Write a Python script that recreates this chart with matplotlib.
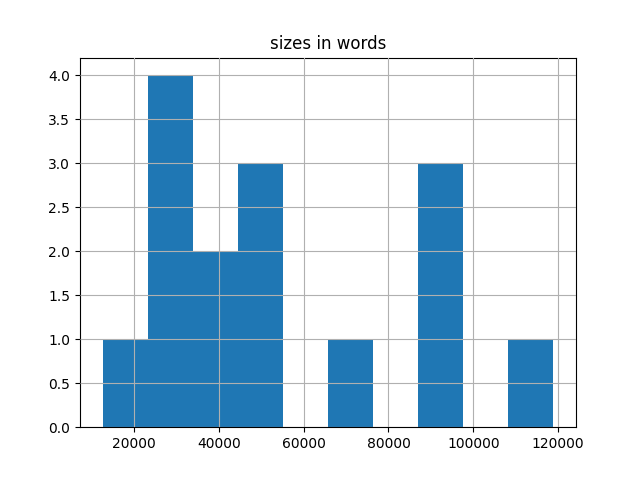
import matplotlib
matplotlib.use('Agg')
import matplotlib.pyplot as plt

# word counts per document
sizes = [12600,
         25000, 28000, 30000, 32000,
         36000, 41000,
         46000, 50000, 53000,
         70000,
         89000, 92000, 95000,
         118900]

fig, ax = plt.subplots(figsize=(6.4, 4.8), dpi=100)
ax.hist(sizes, bins=10, color='#1f77b4')
ax.grid(True)
ax.set_axisbelow(False)
ax.set_title('sizes in words')

plt.savefig('out.png')
